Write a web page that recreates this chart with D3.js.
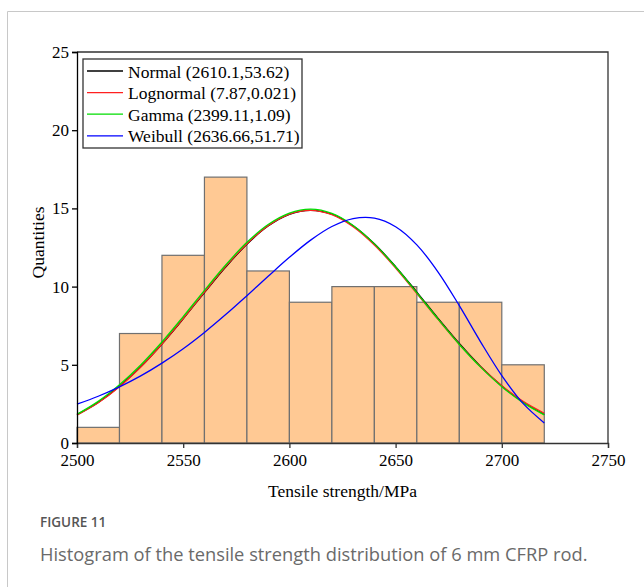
<!DOCTYPE html>
<html>
<head>
<meta charset="utf-8">
<script src="https://cdn.jsdelivr.net/npm/d3@7"></script>
<style>
  body { margin: 0; background: #fff; }
  svg { display: block; }
</style>
</head>
<body>
<svg id="chart"></svg>
<script>
// histogram bins (20 MPa wide) and counts
const binStarts = [2500, 2520, 2540, 2560, 2580, 2600, 2620, 2640, 2660, 2680, 2700];
const binWidth = 20;
const counts = [1, 7, 12, 17, 11, 9, 10, 10, 9, 9, 5];

// fitted curves, every 10 MPa
const curveX = [2500, 2510, 2520, 2530, 2540, 2550, 2560, 2570, 2580, 2590, 2600, 2610,
  2620, 2630, 2640, 2650, 2660, 2670, 2680, 2690, 2700, 2710, 2720];
const normalY = [1.81, 2.6, 3.63, 4.87, 6.33, 7.94, 9.62, 11.25, 12.71, 13.87, 14.62, 14.88,
  14.63, 13.89, 12.74, 11.28, 9.65, 7.97, 6.36, 4.9, 3.65, 2.62, 1.82];
const lognormalY = [1.78, 2.57, 3.6, 4.86, 6.33, 7.96, 9.65, 11.29, 12.74, 13.9, 14.64, 14.88,
  14.6, 13.83, 12.66, 11.19, 9.56, 7.9, 6.31, 4.88, 3.66, 2.66, 1.9];
const gammaY = [1.83, 2.66, 3.72, 4.99, 6.46, 8.08, 9.76, 11.38, 12.83, 13.97, 14.7, 14.95,
  14.68, 13.91, 12.73, 11.25, 9.6, 7.92, 6.3, 4.85, 3.6, 2.58, 1.8];
const weibullY = [2.48, 2.99, 3.59, 4.29, 5.11, 6.03, 7.07, 8.21, 9.42, 10.66, 11.87, 12.97,
  13.84, 14.35, 14.38, 13.83, 12.67, 10.93, 8.78, 6.47, 4.31, 2.53, 1.28];

const seriesNames = ["Normal (2610.1,53.62)", "Lognormal (7.87,0.021)", "Gamma (2399.11,1.09)", "Weibull (2636.66,51.71)"];
const seriesColors = ["#000000", "#ff2020", "#00dd00", "#0000ff"];
const seriesValues = [normalY, lognormalY, gammaY, weibullY];

const xTicks = [2500, 2550, 2600, 2650, 2700, 2750];
const yTicks = [0, 5, 10, 15, 20, 25];

const serif = "'Liberation Serif', 'Times New Roman', serif";

const width = 644;
const height = 587;
const margin = { top: 52, right: 36, bottom: 144, left: 77 };
const innerWidth = width - margin.left - margin.right;
const innerHeight = height - margin.top - margin.bottom;

const svg = d3.select("#chart").attr("width", width).attr("height", height);

// page frame
svg.append("path")
  .attr("d", `M7.5,${height} V11.5 H${width}`)
  .attr("fill", "none")
  .attr("stroke", "#c8c8c8")
  .attr("stroke-width", 1);

const xScale = d3.scaleLinear().domain([2500, 2750]).range([0, innerWidth]);
const yScale = d3.scaleLinear().domain([0, 25]).range([innerHeight, 0]);

const g = svg.append("g")
  .attr("transform", `translate(${margin.left},${margin.top})`);

// bars
g.selectAll("rect.bar")
  .data(binStarts)
  .enter()
  .append("rect")
  .attr("class", "bar")
  .attr("x", (d) => xScale(d))
  .attr("y", (d, i) => yScale(counts[i]))
  .attr("width", (d) => xScale(d + binWidth) - xScale(d))
  .attr("height", (d, i) => innerHeight - yScale(counts[i]))
  .attr("fill", "#ffc994")
  .attr("stroke", "#707070")
  .attr("stroke-width", 1.2);

// curves
const line = d3.line()
  .x((d) => xScale(d[0]))
  .y((d) => yScale(d[1]))
  .curve(d3.curveCatmullRom);

seriesValues.forEach((vals, i) => {
  g.append("path")
    .datum(curveX.map((x, j) => [x, vals[j]]))
    .attr("d", line)
    .attr("fill", "none")
    .attr("stroke", seriesColors[i])
    .attr("stroke-width", 1.3);
});

// frame top & right
g.append("path")
  .attr("d", `M0,0 H${innerWidth} V${innerHeight}`)
  .attr("fill", "none")
  .attr("stroke", "#333")
  .attr("stroke-width", 1.3);

// axes
const xAxisG = g.append("g")
  .attr("transform", `translate(0,${innerHeight})`)
  .call(d3.axisBottom(xScale).tickValues(xTicks).tickSize(5).tickPadding(6).tickFormat(d3.format("d")));
xAxisG.select(".domain").attr("stroke", "#333").attr("stroke-width", 1.3);
xAxisG.selectAll(".tick line").attr("stroke", "#333").attr("stroke-width", 1.3);
xAxisG.selectAll(".tick text")
  .style("font-family", serif)
  .style("font-size", "17px")
  .attr("fill", "#000");

const yAxisG = g.append("g")
  .call(d3.axisLeft(yScale).tickValues(yTicks).tickSize(5).tickPadding(3));
yAxisG.select(".domain").attr("stroke", "#000").attr("stroke-width", 1.3);
yAxisG.selectAll(".tick line").attr("stroke", "#000").attr("stroke-width", 1.3);
yAxisG.selectAll(".tick text")
  .style("font-family", serif)
  .style("font-size", "17px")
  .attr("fill", "#000");

// axis titles
svg.append("text")
  .attr("x", margin.left + innerWidth / 2)
  .attr("y", 497)
  .attr("text-anchor", "middle")
  .style("font-family", serif)
  .style("font-size", "17.5px")
  .text("Tensile strength/MPa");

svg.append("text")
  .attr("transform", `translate(44,${margin.top + innerHeight / 2 - 5}) rotate(-90)`)
  .attr("text-anchor", "middle")
  .style("font-family", serif)
  .style("font-size", "17.5px")
  .text("Quantities");

// legend
const legend = g.append("g").attr("transform", "translate(6,7)");
legend.append("rect")
  .attr("width", 219)
  .attr("height", 89)
  .attr("fill", "#fff")
  .attr("stroke", "#333")
  .attr("stroke-width", 1.3);

seriesNames.forEach((name, i) => {
  const row = legend.append("g").attr("transform", `translate(0,${12 + i * 21.6})`);
  row.append("line")
    .attr("x1", 4).attr("x2", 40)
    .attr("stroke", seriesColors[i])
    .attr("stroke-width", 1.3);
  row.append("text")
    .attr("x", 45)
    .attr("y", 6.5)
    .style("font-family", serif)
    .style("font-size", "17.5px")
    .text(name);
});

// caption
svg.append("text")
  .attr("x", 40)
  .attr("y", 527)
  .style("font-family", "'Open Sans', sans-serif")
  .style("font-size", "13.5px")
  .style("font-weight", 600)
  .attr("fill", "#555")
  .text("FIGURE 11");

svg.append("text")
  .attr("x", 40)
  .attr("y", 561)
  .style("font-family", "'Open Sans', sans-serif")
  .style("font-size", "18.3px")
  .attr("fill", "#6a6a6a")
  .text("Histogram of the tensile strength distribution of 6 mm CFRP rod.");
</script>
</body>
</html>
